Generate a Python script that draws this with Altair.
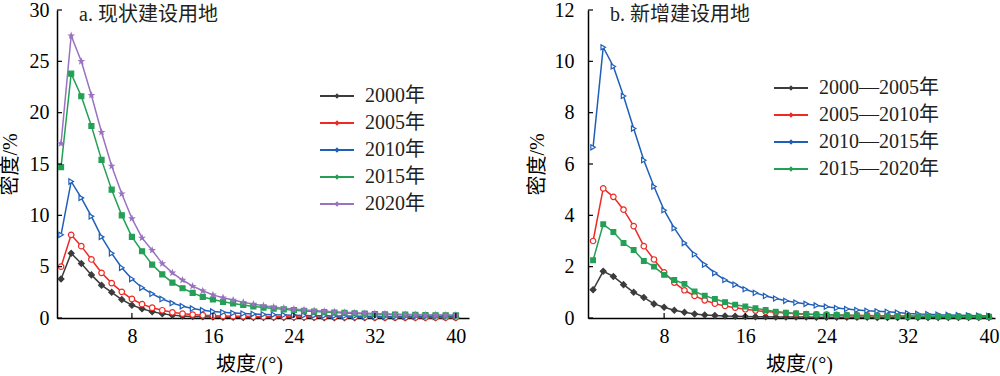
import altair as alt
import pandas as pd

slope = list(range(1, 41))

# ---- panel a: 现状建设用地 (density %, by slope degree) ----
a_names = ["2000年", "2005年", "2010年", "2015年", "2020年"]
a_2000 = [3.8, 6.3, 5.3, 4.2, 3.2, 2.5, 1.8, 1.25, 0.9, 0.62,
          0.42, 0.28, 0.2, 0.15, 0.12, 0.1, 0.08, 0.07, 0.06, 0.05,
          0.05, 0.05, 0.04, 0.04, 0.04, 0.04, 0.03, 0.03, 0.03, 0.03,
          0.03, 0.03, 0.02, 0.02, 0.02, 0.02, 0.02, 0.02, 0.02, 0.02]
a_2005 = [5.0, 8.1, 7.0, 5.7, 4.4, 3.4, 2.55, 1.85, 1.35, 1.0,
          0.75, 0.55, 0.42, 0.33, 0.27, 0.23, 0.2, 0.18, 0.16, 0.14,
          0.13, 0.12, 0.11, 0.1, 0.1, 0.09, 0.09, 0.09, 0.08, 0.08,
          0.08, 0.07, 0.07, 0.07, 0.07, 0.06, 0.06, 0.06, 0.06, 0.06]
a_2010 = [8.1, 13.3, 11.7, 9.9, 7.9, 6.3, 4.9, 3.8, 2.95, 2.35,
          1.85, 1.45, 1.15, 0.92, 0.75, 0.63, 0.55, 0.48, 0.43, 0.39,
          0.35, 0.32, 0.29, 0.27, 0.25, 0.23, 0.21, 0.2, 0.19, 0.18,
          0.17, 0.16, 0.15, 0.15, 0.14, 0.13, 0.13, 0.12, 0.12, 0.11]
a_2015 = [14.7, 23.8, 21.6, 18.7, 15.4, 12.5, 10.0, 7.9, 6.5, 5.2,
          4.25, 3.45, 2.9, 2.45, 2.05, 1.8, 1.58, 1.42, 1.27, 1.13,
          1.02, 0.92, 0.84, 0.76, 0.69, 0.63, 0.58, 0.53, 0.49, 0.45,
          0.42, 0.39, 0.36, 0.34, 0.32, 0.3, 0.28, 0.27, 0.26, 0.25]
a_2020 = [17.0, 27.5, 25.0, 21.7, 18.1, 14.8, 12.1, 9.7, 7.8, 6.6,
          5.3, 4.4, 3.7, 3.1, 2.65, 2.25, 1.98, 1.75, 1.54, 1.35,
          1.2, 1.07, 0.96, 0.87, 0.79, 0.72, 0.66, 0.6, 0.55, 0.5,
          0.46, 0.43, 0.4, 0.37, 0.35, 0.33, 0.31, 0.3, 0.29, 0.28]

# ---- panel b: 新增建设用地 ----
b_names = ["2000—2005年", "2005—2010年", "2010—2015年", "2015—2020年"]
b_0005 = [1.1, 1.82, 1.62, 1.3, 1.0, 0.8, 0.55, 0.42, 0.3, 0.22,
          0.16, 0.12, 0.1, 0.08, 0.07, 0.06, 0.05, 0.05, 0.04, 0.04,
          0.04, 0.04, 0.03, 0.03, 0.03, 0.03, 0.03, 0.03, 0.02, 0.02,
          0.02, 0.02, 0.02, 0.02, 0.02, 0.02, 0.02, 0.02, 0.02, 0.02]
b_0510 = [3.0, 5.05, 4.72, 4.22, 3.58, 2.8, 2.28, 1.78, 1.38, 1.08,
          0.86, 0.69, 0.56, 0.47, 0.4, 0.34, 0.29, 0.25, 0.22, 0.19,
          0.17, 0.15, 0.14, 0.13, 0.12, 0.11, 0.1, 0.1, 0.09, 0.09,
          0.08, 0.08, 0.07, 0.07, 0.07, 0.06, 0.06, 0.06, 0.05, 0.05]
b_1015 = [6.65, 10.55, 9.8, 8.65, 7.38, 6.15, 5.12, 4.2, 3.5, 2.92,
          2.48, 2.08, 1.75, 1.48, 1.3, 1.12, 0.98, 0.86, 0.76, 0.67,
          0.6, 0.55, 0.49, 0.44, 0.39, 0.35, 0.31, 0.28, 0.26, 0.24,
          0.21, 0.18, 0.16, 0.15, 0.13, 0.12, 0.11, 0.1, 0.09, 0.08]
b_1520 = [2.25, 3.65, 3.35, 2.92, 2.65, 2.22, 2.0, 1.68, 1.48, 1.33,
          1.03, 0.87, 0.74, 0.62, 0.52, 0.45, 0.38, 0.31, 0.25, 0.21,
          0.18, 0.16, 0.14, 0.13, 0.12, 0.11, 0.1, 0.09, 0.09, 0.08,
          0.08, 0.07, 0.07, 0.07, 0.06, 0.06, 0.06, 0.05, 0.05, 0.05]

x_ticks = [8, 16, 24, 32, 40]
a_y_ticks = [0, 5, 10, 15, 20, 25, 30]
b_y_ticks = [0, 2, 4, 6, 8, 10, 12]

a_title = "a. 现状建设用地"
b_title = "b. 新增建设用地"
x_title = "坡度/(°)"
y_title = "密度/%"

FONT = "Liberation Serif, Noto Sans CJK SC"
line_colors = ["#3c3c3c", "#ee2a24", "#1f5fb8", "#24a056", "#9a72c0"]
fill_colors = ["#3c3c3c", "#ffffff", "#ffffff", "#24a056", "#9a72c0"]
shapes = ["diamond", "circle", "triangle-right", "square", "M0,-1L0.24,-0.33L0.95,-0.31L0.39,0.13L0.59,0.81L0,0.4L-0.59,0.81L-0.39,0.13L-0.95,-0.31L-0.24,-0.33Z"]
sizes = [34, 22, 36, 26, 60]
LEGEND_SYMBOL = "M-3.4,0H3.4M0,-0.25L0.25,0L0,0.25L-0.25,0Z"


def long_df(names, arrays):
    rows = []
    for i, (n, arr) in enumerate(zip(names, arrays)):
        for s, v in zip(slope, arr):
            rows.append({"slope": s, "value": v, "series": n, "marker": i})
    return pd.DataFrame(rows)


def panel(names, arrays, ymax, yticks, title, xdom, width, leg_x, leg_y,
          ylab_pad, ytitle_pad, xtitle_x):
    n = len(names)
    idx = list(range(n))
    df = long_df(names, arrays)
    xs = alt.Scale(domain=xdom, nice=False, zero=False)
    ys = alt.Scale(domain=[0, ymax], nice=False)
    xaxis = alt.Axis(values=x_ticks, title=x_title, grid=False, ticks=False, tickSize=0,
                     labelPadding=8, titlePadding=8, titleX=xtitle_x,
                     domainColor="black", domainWidth=1.5,
                     labelFont=FONT, labelFontSize=20, labelColor="black",
                     titleFont=FONT, titleFontSize=20, titleColor="black",
                     titleFontWeight="normal")
    yaxis = alt.Axis(values=yticks, title=y_title, grid=False, ticks=False, tickSize=0,
                     labelPadding=ylab_pad, titlePadding=ytitle_pad,
                     domainColor="black", domainWidth=1.5,
                     labelFont=FONT, labelFontSize=20, labelColor="black",
                     titleFont=FONT, titleFontSize=20, titleColor="black",
                     titleFontWeight="normal")
    cscale = alt.Scale(domain=names, range=line_colors[:n])
    base = alt.Chart(df)
    lines = base.mark_line(strokeWidth=1.5).encode(
        x=alt.X("slope:Q", scale=xs, axis=xaxis),
        y=alt.Y("value:Q", scale=ys, axis=yaxis),
        color=alt.Color("series:N", scale=cscale, sort=names,
                        legend=alt.Legend(orient="none", legendX=leg_x, legendY=leg_y,
                                          title=None, symbolType=LEGEND_SYMBOL,
                                          symbolSize=100, symbolStrokeWidth=2,
                                          labelFont=FONT, labelFontSize=20,
                                          labelColor="#231f20", labelOffset=18,
                                          rowPadding=7, padding=0, labelLimit=300)),
    )
    pts = base.mark_point(opacity=1, strokeWidth=1.2).encode(
        x=alt.X("slope:Q", scale=xs),
        y=alt.Y("value:Q", scale=ys),
        shape=alt.Shape("marker:N", scale=alt.Scale(domain=idx, range=shapes[:n]), legend=None),
        stroke=alt.Stroke("marker:N", scale=alt.Scale(domain=idx, range=line_colors[:n]), legend=None),
        fill=alt.Fill("marker:N", scale=alt.Scale(domain=idx, range=fill_colors[:n]), legend=None),
        size=alt.Size("marker:N", scale=alt.Scale(domain=idx, range=sizes[:n]), legend=None),
    )
    ytick_rules = alt.Chart(pd.DataFrame({"value": yticks})).mark_rule(
        color="black", strokeWidth=1.2).encode(
        y=alt.Y("value:Q", scale=ys), x=alt.value(0), x2=alt.value(5))
    xtick_rules = alt.Chart(pd.DataFrame({"slope": x_ticks})).mark_rule(
        color="black", strokeWidth=1.2).encode(
        x=alt.X("slope:Q", scale=xs), y=alt.value(308), y2=alt.value(303))
    ttl = alt.Chart(pd.DataFrame({"t": [title]})).mark_text(
        align="left", baseline="top", font=FONT, fontSize=20, color="#231f20").encode(
        text="t:N", x=alt.value(22), y=alt.value(-5))
    return alt.layer(lines, pts, ytick_rules, xtick_rules, ttl).properties(width=width, height=308)


left = panel(a_names, [a_2000, a_2005, a_2010, a_2015, a_2020], 30, a_y_ticks, a_title,
             [0.6, 41.3], 412, 270, 76, 8, 9, 192)
right = panel(b_names, [b_0005, b_0510, b_1015, b_1520], 12, b_y_ticks, b_title,
              [0.5, 40.6], 407, 193, 68, 14, 7, 211)

chart = alt.hconcat(left, right, spacing=58).resolve_scale(
    color="independent", shape="independent", stroke="independent",
    fill="independent", size="independent", x="independent", y="independent"
).properties(padding={"left": 0, "top": 0, "right": 0, "bottom": 0}).configure_view(stroke=None)

chart.save("out.html", embed_options={"renderer": "svg", "actions": False})
